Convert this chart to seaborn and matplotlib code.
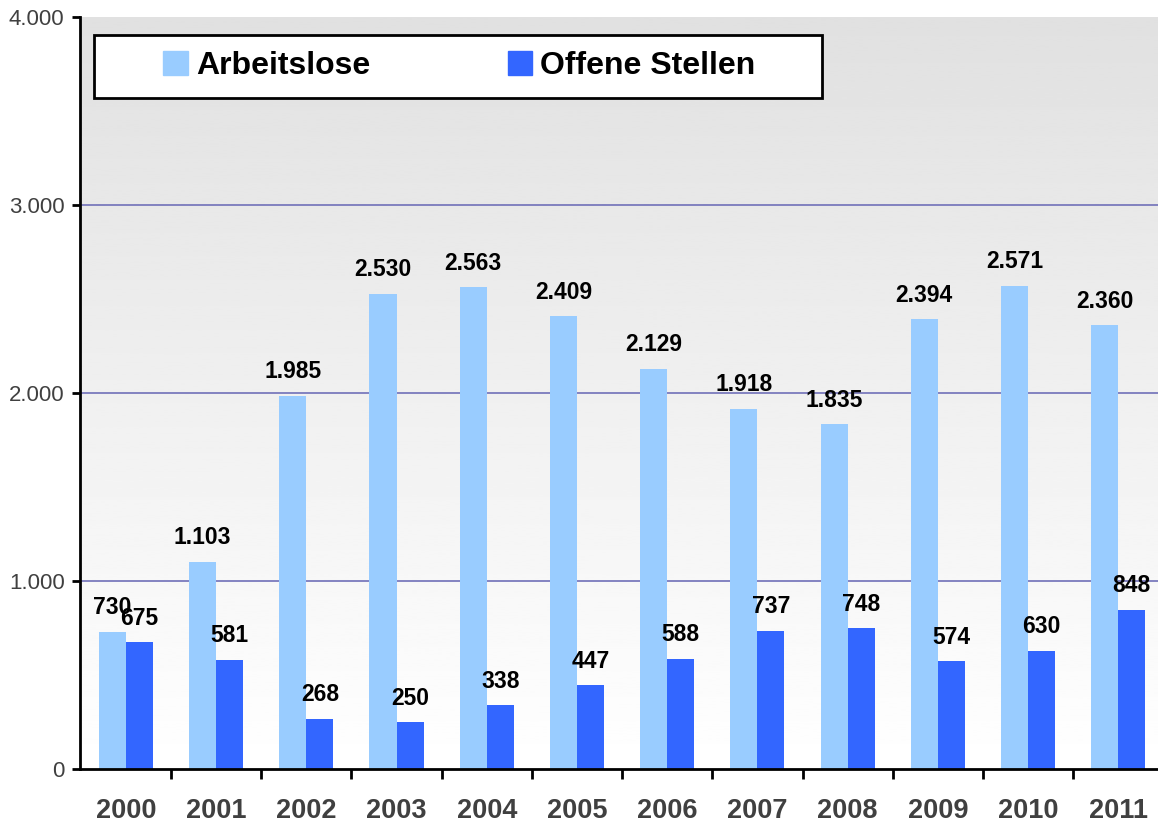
import matplotlib.pyplot as plt
import numpy as np
import pandas as pd
import seaborn as sns

years = ['2000', '2001', '2002', '2003', '2004', '2005', '2006', '2007', '2008', '2009', '2010', '2011']
arbeitslose = [730, 1103, 1985, 2530, 2563, 2409, 2129, 1918, 1835, 2394, 2571, 2360]
offene_stellen = [675, 581, 268, 250, 338, 447, 588, 737, 748, 574, 630, 848]
series = ['Arbeitslose', 'Offene Stellen']
colors = ['#99CCFF', '#3366FF']

df = pd.DataFrame({
    'Jahr': years * 2,
    'Reihe': [series[0]] * len(years) + [series[1]] * len(years),
    'Wert': arbeitslose + offene_stellen,
})

sns.set_style('white')
plt.rcParams['font.family'] = ['Liberation Sans', 'DejaVu Sans']

fig = plt.figure(figsize=(11.58, 8.23), dpi=100)
ax = fig.add_axes([0.069, 0.0656, 0.931, 0.9134])

# grey-to-white gradient background
grad = np.linspace(0.88, 1.0, 256).reshape(-1, 1)
ax.imshow(grad, cmap='gray', vmin=0, vmax=1, aspect='auto',
          extent=[0, 1, 0, 1], transform=ax.transAxes, zorder=0, origin='upper')

sns.barplot(data=df, x='Jahr', y='Wert', hue='Reihe', palette=colors,
            width=0.6, saturation=1, gap=0, ax=ax, legend=False, zorder=3,
            linewidth=0, edgecolor='none')

def de_fmt(v):
    return f'{int(v):,}'.replace(',', '.')

for cont in ax.containers:
    for bar in cont:
        h = bar.get_height()
        ax.annotate(de_fmt(h), (bar.get_x() + bar.get_width() / 2, h),
                    xytext=(0, 9), textcoords='offset points', ha='center', va='bottom',
                    fontsize=16.5, fontweight='bold', color='black', zorder=5)

ax.set_ylim(0, 4000)
ax.set_xlim(-0.51, 11.44)
ax.set_yticks([0, 1000, 2000, 3000, 4000])
ax.set_yticklabels([de_fmt(v) for v in [0, 1000, 2000, 3000, 4000]], fontsize=16, color='#404040')
ax.set_xticks(range(len(years)))
ax.set_xticklabels(years, fontsize=19.5, fontweight='bold', color='#404040')
ax.set_xticks(np.arange(0.5, len(years) - 0.5, 1), minor=True)
ax.tick_params(axis='x', which='major', length=0, pad=21)
ax.tick_params(axis='x', which='minor', length=7, width=2, direction='out', color='black', bottom=True)
ax.tick_params(axis='y', length=6, width=2, direction='out', color='black', left=True, pad=5)
ax.set_xlabel('')
ax.set_ylabel('')

for y in [1000, 2000, 3000]:
    ax.axhline(y, color='#7070B8', lw=1.2, zorder=2)

for s in ['top', 'right']:
    ax.spines[s].set_visible(False)
for s in ['left', 'bottom']:
    ax.spines[s].set_color('black')
    ax.spines[s].set_linewidth(2)
    ax.spines[s].set_zorder(6)

# legend box
box = plt.Rectangle((0.013, 0.892), 0.675, 0.085, transform=ax.transAxes,
                    facecolor='white', edgecolor='black', lw=2, zorder=9)
ax.add_patch(box)
handles = [plt.Rectangle((0, 0), 1, 1, color=c) for c in colors]
leg = ax.legend(handles, series, ncol=2, loc='center', bbox_to_anchor=(0.352, 0.935),
                prop={'size': 23, 'weight': 'bold'}, frameon=False, labelcolor='black',
                handlelength=0.78, handleheight=0.78, handletextpad=0.25,
                columnspacing=4.3, borderpad=0)
leg.set_zorder(10)

fig.savefig('out.png', dpi=100)
